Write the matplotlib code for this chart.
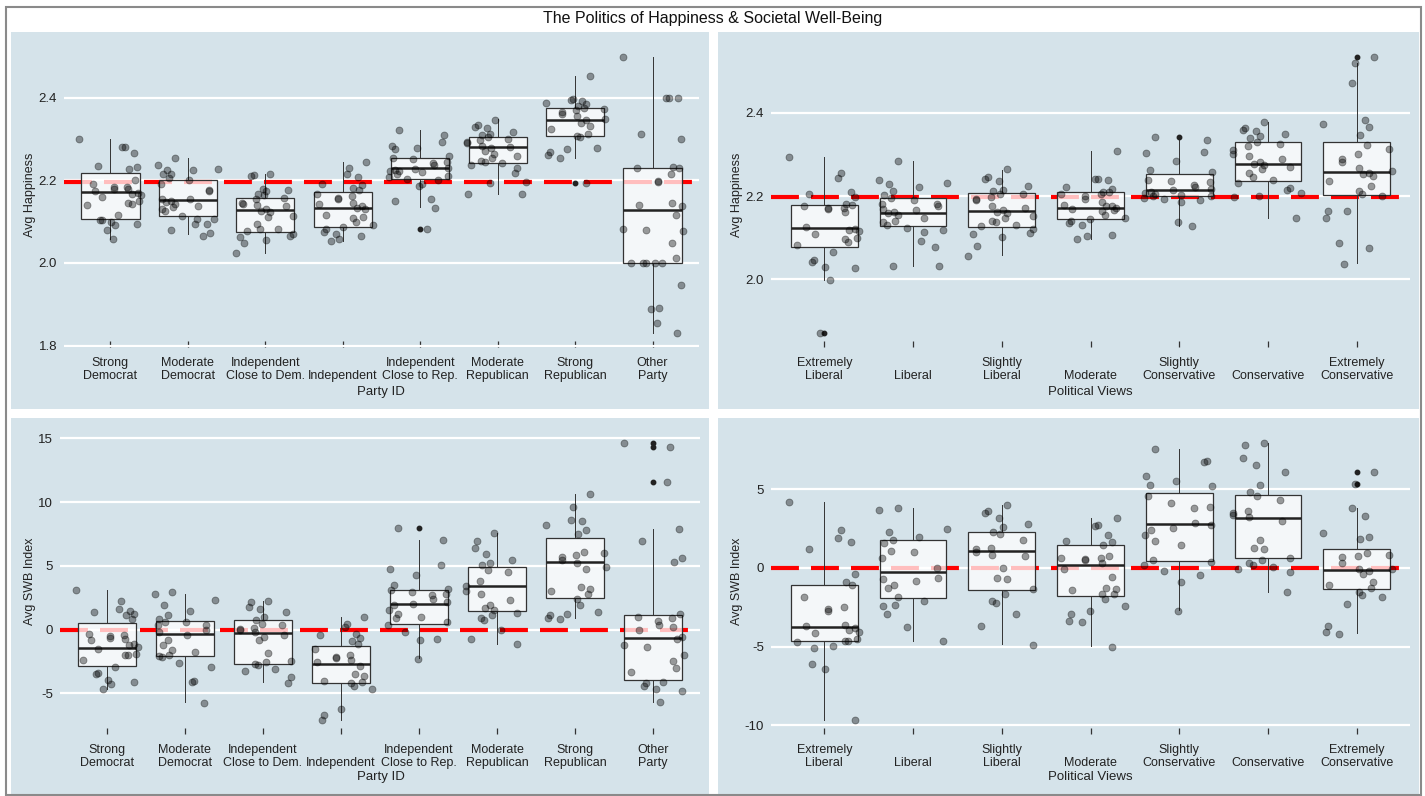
import matplotlib.pyplot as plt
from matplotlib.patches import Rectangle

# ---- categories ----
party_labels = ["Strong\nDemocrat", "Moderate\nDemocrat", "Independent\nClose to Dem.", "\nIndependent",
                "Independent\nClose to Rep.", "Moderate\nRepublican", "Strong\nRepublican", "Other\nParty"]
views_labels = ["Extremely\nLiberal", "\nLiberal", "Slightly\nLiberal", "\nModerate",
                "Slightly\nConservative", "\nConservative", "Extremely\nConservative"]

# ---- Avg Happiness by Party ID (one list per group) ----
happy_party = [
    [2.300, 2.280, 2.280, 2.265, 2.235, 2.232, 2.227, 2.200, 2.190, 2.185, 2.185, 2.180, 2.178, 2.175, 2.170,
     2.168, 2.165, 2.160, 2.150, 2.145, 2.143, 2.140, 2.115, 2.105, 2.105, 2.100, 2.095, 2.092, 2.080, 2.058],
    [2.255, 2.238, 2.228, 2.226, 2.225, 2.216, 2.216, 2.205, 2.200, 2.192, 2.177, 2.173, 2.156, 2.156, 2.149,
     2.148, 2.142, 2.137, 2.135, 2.130, 2.126, 2.113, 2.107, 2.106, 2.095, 2.095, 2.079, 2.072, 2.066],
    [2.216, 2.212, 2.210, 2.178, 2.176, 2.174, 2.168, 2.165, 2.157, 2.155, 2.145, 2.143, 2.141, 2.137, 2.130,
     2.126, 2.124, 2.114, 2.112, 2.094, 2.083, 2.082, 2.077, 2.070, 2.065, 2.063, 2.055, 2.048, 2.023],
    [2.245, 2.230, 2.216, 2.209, 2.190, 2.188, 2.181, 2.177, 2.168, 2.161, 2.157, 2.156, 2.146, 2.142, 2.138,
     2.134, 2.130, 2.117, 2.112, 2.108, 2.100, 2.093, 2.086, 2.082, 2.076, 2.070, 2.066, 2.059, 2.052],
    [2.322, 2.310, 2.294, 2.282, 2.279, 2.276, 2.258, 2.253, 2.251, 2.245, 2.243, 2.236, 2.230, 2.227, 2.224,
     2.223, 2.222, 2.220, 2.215, 2.211, 2.209, 2.204, 2.202, 2.190, 2.187, 2.156, 2.150, 2.134, 2.083],
    [2.345, 2.334, 2.330, 2.326, 2.318, 2.312, 2.309, 2.305, 2.300, 2.298, 2.292, 2.290, 2.284, 2.280, 2.278,
     2.270, 2.264, 2.258, 2.255, 2.248, 2.244, 2.242, 2.238, 2.231, 2.217, 2.196, 2.194, 2.167, 2.166],
    [2.453, 2.398, 2.394, 2.392, 2.388, 2.385, 2.380, 2.375, 2.372, 2.370, 2.365, 2.360, 2.355, 2.348, 2.345,
     2.340, 2.332, 2.325, 2.312, 2.308, 2.306, 2.278, 2.276, 2.269, 2.262, 2.253, 2.194],
    [2.499, 2.400, 2.400, 2.400, 2.312, 2.300, 2.232, 2.230, 2.229, 2.216, 2.199, 2.196, 2.145, 2.140, 2.137,
     2.116, 2.082, 2.080, 2.078, 2.048, 2.013, 2.000, 2.000, 2.000, 2.000, 2.000, 1.946, 1.892, 1.888, 1.855, 1.830],
]
hp_q1 = [2.107, 2.114, 2.076, 2.088, 2.204, 2.242, 2.307, 2.000]
hp_med = [2.171, 2.152, 2.128, 2.133, 2.230, 2.280, 2.347, 2.128]
hp_q3 = [2.218, 2.202, 2.158, 2.172, 2.253, 2.305, 2.375, 2.229]
hp_lo = [2.057, 2.069, 2.023, 2.054, 2.136, 2.167, 2.254, 1.831]
hp_hi = [2.301, 2.255, 2.216, 2.245, 2.322, 2.348, 2.453, 2.499]
hp_out = [[], [], [], [], [2.083], [], [2.194], []]
hp_mean = 2.196

# ---- Avg Happiness by Political Views ----
happy_views = [
    [2.295, 2.255, 2.244, 2.210, 2.204, 2.197, 2.182, 2.178, 2.175, 2.172, 2.172, 2.170, 2.162, 2.125, 2.120,
     2.118, 2.115, 2.108, 2.100, 2.096, 2.090, 2.083, 2.065, 2.045, 2.041, 2.030, 2.028, 1.999, 1.870],
    [2.285, 2.238, 2.232, 2.228, 2.222, 2.212, 2.202, 2.195, 2.190, 2.182, 2.180, 2.176, 2.170, 2.166, 2.162,
     2.160, 2.155, 2.146, 2.141, 2.137, 2.130, 2.124, 2.118, 2.113, 2.093, 2.077, 2.032, 2.031],
    [2.264, 2.246, 2.241, 2.236, 2.224, 2.215, 2.212, 2.206, 2.204, 2.198, 2.194, 2.190, 2.176, 2.171, 2.166,
     2.162, 2.158, 2.151, 2.148, 2.141, 2.138, 2.131, 2.128, 2.120, 2.110, 2.108, 2.101, 2.080, 2.055],
    [2.309, 2.241, 2.240, 2.238, 2.222, 2.216, 2.210, 2.209, 2.205, 2.204, 2.200, 2.193, 2.185, 2.178, 2.177,
     2.175, 2.172, 2.170, 2.166, 2.163, 2.155, 2.147, 2.145, 2.139, 2.134, 2.131, 2.107, 2.105, 2.097],
    [2.343, 2.334, 2.306, 2.303, 2.284, 2.262, 2.258, 2.238, 2.236, 2.234, 2.226, 2.222, 2.218, 2.214, 2.210,
     2.208, 2.205, 2.203, 2.200, 2.199, 2.196, 2.193, 2.190, 2.186, 2.137, 2.128],
    [2.379, 2.363, 2.360, 2.356, 2.350, 2.345, 2.340, 2.331, 2.325, 2.321, 2.310, 2.302, 2.297, 2.290, 2.283,
     2.278, 2.275, 2.271, 2.265, 2.255, 2.245, 2.239, 2.231, 2.220, 2.215, 2.207, 2.201, 2.198, 2.148],
    [2.535, 2.520, 2.472, 2.382, 2.374, 2.366, 2.348, 2.323, 2.312, 2.301, 2.290, 2.281, 2.267, 2.260, 2.256,
     2.252, 2.249, 2.236, 2.225, 2.213, 2.205, 2.201, 2.165, 2.163, 2.147, 2.087, 2.076, 2.037],
]
hv_q1 = [2.077, 2.127, 2.126, 2.145, 2.200, 2.235, 2.202]
hv_med = [2.122, 2.160, 2.165, 2.172, 2.215, 2.277, 2.257]
hv_q3 = [2.179, 2.196, 2.208, 2.210, 2.254, 2.329, 2.331]
hv_lo = [1.999, 2.032, 2.057, 2.097, 2.129, 2.147, 2.038]
hv_hi = [2.295, 2.285, 2.262, 2.309, 2.337, 2.379, 2.520]
hv_out = [[1.870], [], [], [], [2.343], [], [2.535]]
hv_mean = 2.197

# ---- Avg SWB Index by Party ID ----
swb_party = [
    [3.10, 2.23, 1.60, 1.50, 1.35, 1.26, 1.13, 0.87, -0.32, -0.39, -0.50, -0.63, -0.72, -0.84, -1.10,
     -1.22, -1.36, -1.55, -1.89, -1.97, -2.02, -2.41, -2.94, -3.39, -3.46, -3.91, -4.10, -4.25, -4.65],
    [2.97, 2.83, 2.31, 1.92, 1.44, 1.13, 0.87, 0.62, 0.60, 0.40, 0.34, -0.05, -0.20, -0.45, -0.84,
     -1.23, -1.60, -1.76, -1.97, -2.07, -2.15, -2.60, -2.94, -3.99, -4.07, -5.75],
    [2.23, 2.18, 1.80, 1.60, 1.39, 1.00, 0.73, 0.47, 0.34, 0.13, 0.03, -0.05, -0.18, -0.45, -0.58,
     -0.84, -1.84, -2.42, -2.55, -2.68, -2.75, -3.07, -3.20, -3.73, -4.17],
    [1.00, 0.42, 0.21, -0.31, -0.45, -0.66, -0.92, -1.10, -1.50, -1.97, -2.15, -2.23, -2.40, -2.55, -2.86,
     -3.46, -3.60, -3.99, -4.07, -4.20, -4.38, -4.65, -6.22, -6.69, -7.09],
    [7.95, 7.03, 5.07, 4.75, 4.28, 3.49, 3.20, 3.10, 2.95, 2.83, 2.70, 2.40, 2.18, 2.05, 1.92,
     1.52, 1.20, 1.00, 0.90, 0.60, 0.39, -0.18, -0.70, -0.84, -2.28],
    [7.56, 6.96, 6.38, 5.91, 5.46, 5.20, 5.07, 4.67, 4.50, 3.81, 3.44, 3.02, 2.83, 2.30, 1.92,
     1.70, 1.57, 1.30, 1.13, 0.92, 0.73, -0.05, -0.71, -1.10],
    [10.63, 9.61, 8.63, 8.55, 8.22, 7.82, 7.48, 6.10, 5.98, 5.85, 5.72, 5.50, 5.25, 4.93, 4.75,
     3.36, 3.23, 3.02, 2.83, 2.44, 1.92, 1.39, 1.26, 1.13, 0.92, 0.81],
    [14.65, 14.30, 11.57, 7.87, 6.96, 5.64, 5.28, 1.25, 1.00, 0.95, 0.66, 0.34, 0.20, -0.05, -0.58,
     -0.76, -1.23, -1.36, -1.97, -2.49, -3.02, -3.28, -4.12, -4.20, -4.38, -4.65, -4.78, -5.70],
]
sp_q1 = [-2.86, -2.07, -2.65, -4.20, 0.47, 1.50, 2.52, -3.91]
sp_med = [-1.42, -0.34, -0.26, -2.65, 2.05, 3.44, 5.33, -0.63]
sp_q3 = [0.55, 0.71, 0.73, -1.29, 3.10, 4.93, 7.17, 1.18]
sp_lo = [-4.65, -5.70, -4.12, -7.06, -2.20, -1.10, 0.92, -5.70]
sp_hi = [3.10, 2.83, 2.23, 1.00, 7.03, 7.56, 10.63, 7.87]
sp_out = [[], [], [], [], [7.95], [], [], [14.65, 14.30, 11.57]]
sp_mean = 0.0

# ---- Avg SWB Index by Political Views ----
swb_views = [
    [4.18, 2.41, 1.88, 1.62, 1.17, -0.36, -0.90, -1.11, -1.88, -2.50, -2.64, -2.77, -3.62, -3.67, -3.80,
     -3.92, -4.05, -4.14, -4.55, -4.63, -4.63, -4.69, -4.99, -5.07, -6.14, -6.44, -9.68],
    [3.80, 3.67, 2.50, 2.26, 1.96, 1.75, 1.56, 1.10, 1.02, 0.60, 0.00, -0.62, -0.72, -0.85, -1.11,
     -1.28, -1.85, -2.13, -2.35, -2.45, -2.92, -3.73, -4.63],
    [4.01, 3.60, 3.48, 3.20, 2.77, 2.62, 2.30, 2.13, 1.77, 1.28, 1.19, 1.02, 0.81, 0.77, 0.00,
     -0.62, -0.72, -1.32, -1.69, -2.10, -2.22, -2.96, -3.67, -4.88],
    [3.16, 2.73, 2.67, 2.09, 1.70, 1.62, 1.45, 0.77, 0.64, 0.60, 0.55, 0.49, 0.30, -0.04, -0.58,
     -1.26, -1.36, -1.40, -1.64, -1.68, -1.96, -2.45, -2.71, -2.95, -3.35, -3.45, -5.01],
    [7.53, 6.82, 6.74, 5.82, 5.50, 5.25, 5.18, 4.54, 4.12, 3.90, 3.80, 2.85, 2.73, 2.55, 2.41,
     2.09, 1.70, 1.45, 0.49, 0.38, 0.17, -0.21, -0.47, -0.90, -2.71],
    [7.95, 7.80, 6.99, 6.52, 6.10, 5.29, 4.80, 4.54, 4.33, 3.60, 3.48, 3.35, 3.26, 3.01, 1.77,
     1.24, 1.20, 0.64, 0.49, 0.30, 0.17, 0.06, -0.04, -0.26, -1.54],
    [6.10, 5.33, 3.80, 3.30, 2.20, 1.94, 1.81, 0.92, 0.80, 0.75, 0.70, 0.34, -0.05, -0.09, -0.19,
     -0.36, -0.90, -1.07, -1.28, -1.54, -1.70, -1.85, -2.28, -3.67, -4.10, -4.20],
]
sv_q1 = [-4.63, -1.90, -1.39, -1.77, 0.43, 0.66, -1.36]
sv_med = [-3.77, -0.26, 1.07, 0.19, 2.81, 3.20, -0.13]
sv_q3 = [-1.07, 1.75, 2.30, 1.43, 4.75, 4.61, 1.17]
sv_lo = [-9.68, -4.63, -4.84, -4.95, -2.67, -1.54, -4.14]
sv_hi = [4.18, 3.80, 4.01, 3.16, 7.53, 7.95, 3.80]
sv_out = [[], [], [], [], [], [], [6.10, 5.33]]
sv_mean = 0.0

W, H = 1425, 796
BG = "#d5e3ea"
FONT = ["Liberation Sans", "DejaVu Sans"]

fig = plt.figure(figsize=(W / 100, H / 100), dpi=100)


def px(x0, y0, x1, y1):
    # pixel box (top-left origin) -> figure fraction rect
    return [x0 / W, 1 - y1 / H, (x1 - x0) / W, (y1 - y0) / H]


# panel backgrounds + outer frame
for x0, y0, x1, y1 in [(11, 32, 709, 409), (718, 32, 1419, 409), (11, 418, 709, 795), (718, 418, 1419, 795)]:
    fig.add_artist(Rectangle((x0 / W, 1 - y1 / H), (x1 - x0) / W, (y1 - y0) / H,
                             transform=fig.transFigure, facecolor=BG, edgecolor="none", zorder=0))
fig.add_artist(Rectangle((6 / W, 1 - 795 / H), 1415 / W, 788 / H, transform=fig.transFigure,
                         fill=False, edgecolor="#8a8a8a", linewidth=1.5, zorder=1))

fig.text(713 / W, 1 - 18 / H, "The Politics of Happiness & Societal Well-Being", ha="center", va="center",
         fontsize=11.5, family=FONT, color="#111111")


def draw_panel(rect, labels, groups, q1, med, q3, lo, hi, outs, ref, yticks, ylabel, xlabel, ylab_xy, xlab_xy):
    ax = fig.add_axes(rect)
    ax.set_facecolor(BG)
    for s in ax.spines.values():
        s.set_visible(False)
    n = len(labels)
    pos = list(range(1, n + 1))

    ax.axhline(ref, color="#ff0000", linewidth=3, dashes=(6.7, 2.9), zorder=2)

    stats = [dict(q1=q1[i], med=med[i], q3=q3[i], whislo=lo[i], whishi=hi[i], fliers=outs[i]) for i in range(n)]
    ax.bxp(stats, positions=pos, widths=0.75, patch_artist=True, showcaps=False,
           boxprops=dict(facecolor=(1, 1, 1, 0.75), edgecolor="#333333", linewidth=0.9),
           medianprops=dict(color="#222222", linewidth=1.8),
           whiskerprops=dict(color="#333333", linewidth=0.7),
           flierprops=dict(marker="o", markersize=3.2, markerfacecolor="#222222", markeredgecolor="#222222"),
           zorder=3)

    # deterministic horizontal jitter (+/- 0.4 of a category)
    for i, vals in enumerate(groups):
        xs = [pos[i] + 0.4 * (2 * ((k * 0.618034 + k * k * 0.1137 + i * 0.29) % 1) - 1) for k in range(len(vals))]
        ax.scatter(xs, vals, s=25, c="black", alpha=0.38, edgecolors="black", linewidths=0.6, zorder=4)

    allv = [v for g in groups for v in g] + [v for o in outs for v in o] + lo + hi
    vmin, vmax = min(allv), max(allv)
    pad = 0.05 * (vmax - vmin)
    ax.set_ylim(vmin - pad, vmax + pad)
    ax.set_xlim(0.4, n + 0.6)

    ax.set_yticks(yticks, [("%.1f" % t) if isinstance(t, float) else str(t) for t in yticks])
    ax.yaxis.grid(True, color="white", linewidth=1.6)
    ax.set_axisbelow(True)
    ax.set_xticks(pos, labels, linespacing=1.1)
    ax.tick_params(axis="y", length=0, pad=5, labelsize=9.5, labelcolor="#222222")
    ax.tick_params(axis="x", direction="in", length=4.5, width=0.9, color="#333333", pad=7,
                   labelsize=9, labelcolor="#222222")
    for t in ax.get_xticklabels() + ax.get_yticklabels():
        t.set_family(FONT)

    fig.text(ylab_xy[0] / W, 1 - ylab_xy[1] / H, ylabel, rotation=90, ha="center", va="center",
             fontsize=9, family=FONT, color="#222222")
    fig.text(xlab_xy[0] / W, 1 - xlab_xy[1] / H, xlabel, ha="center", va="center",
             fontsize=9.5, family=FONT, color="#222222")
    return ax


draw_panel(px(64, 43, 699, 347), party_labels, happy_party, hp_q1, hp_med, hp_q3, hp_lo, hp_hi, hp_out,
           hp_mean, [1.8, 2.0, 2.2, 2.4], "Avg Happiness", "Party ID", (30, 195), (381, 392))
draw_panel(px(771, 43, 1410, 347), views_labels, happy_views, hv_q1, hv_med, hv_q3, hv_lo, hv_hi, hv_out,
           hv_mean, [2.0, 2.2, 2.4], "Avg Happiness", "Political Views", (737, 195), (1090, 392))
draw_panel(px(60, 429, 700, 734), party_labels, swb_party, sp_q1, sp_med, sp_q3, sp_lo, sp_hi, sp_out,
           sp_mean, [-5, 0, 5, 10, 15], "Avg SWB Index", "Party ID", (30, 581), (381, 777))
draw_panel(px(771, 429, 1410, 734), views_labels, swb_views, sv_q1, sv_med, sv_q3, sv_lo, sv_hi, sv_out,
           sv_mean, [-10, -5, 0, 5], "Avg SWB Index", "Political Views", (737, 581), (1090, 777))

fig.savefig("out.png", dpi=100, facecolor="white")
